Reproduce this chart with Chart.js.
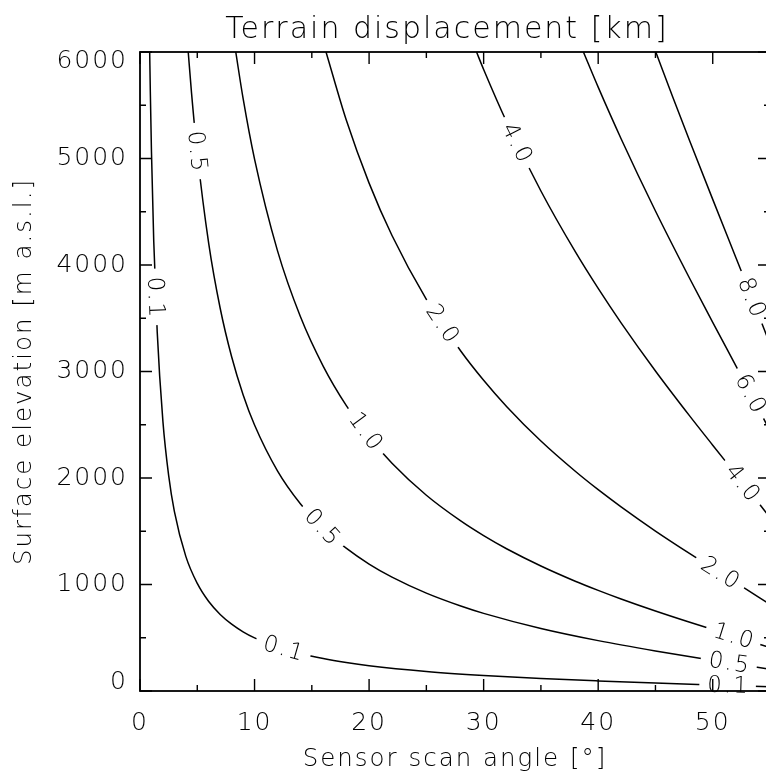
<!DOCTYPE html>
<html>
<head>
<meta charset="utf-8">
<script src="https://cdn.jsdelivr.net/npm/chart.js@4.4.1/dist/chart.umd.min.js"></script>
<style>
  html, body { margin: 0; padding: 0; background: #fff; overflow: hidden; }
  #wrap { width: 894px; height: 776px; }
</style>
</head>
<body>
<div id="wrap"><canvas id="myChart" width="894" height="776"></canvas></div>
<script>
// contour levels, terrain displacement in km
var levels = ['0.1', '0.5', '1.0', '2.0', '4.0', '6.0', '8.0'];

// contour lines as [scan angle (deg), surface elevation (m a.s.l.)]
var c01 = [[0.845, 6000], [0.9, 5631], [1, 5067], [1.2, 4223], [1.5, 3377], [2, 2532], [2.5, 2025],
           [3, 1687], [4, 1264], [5, 1010], [6, 840], [7, 719], [8, 628], [9, 556], [10, 499],
           [12, 413], [14, 352], [16, 305], [18, 268], [20, 238], [25, 184], [30, 146],
           [35, 117], [40, 94.5], [45, 75.1], [50, 57.7], [55, 40.7]];
var c05 = [[4.21, 6000], [4.5, 5614], [5, 5049], [6, 4201], [7, 3594], [8, 3138], [9, 2782],
           [10, 2497], [12, 2067], [14, 1758], [16, 1524], [18, 1341], [20, 1192], [22, 1069],
           [25, 919], [28, 798], [30, 729], [35, 587], [40, 473], [45, 376], [50, 288], [55, 204]];
var c10 = [[8.36, 6000], [9, 5564], [10, 4994], [12, 4135], [14, 3516], [16, 3049], [18, 2682],
           [20, 2385], [22, 2139], [25, 1838], [28, 1597], [30, 1459], [32, 1336], [35, 1174],
           [38, 1031], [40, 945], [42, 864], [45, 751], [48, 645], [50, 577], [52, 510], [55, 407]];
var c20 = [[16.24, 6000], [18, 5363], [20, 4769], [22, 4277], [25, 3677], [28, 3193], [30, 2918],
           [32, 2672], [35, 2347], [38, 2063], [40, 1890], [42, 1729], [45, 1502], [48, 1290],
           [50, 1154], [52, 1019], [55, 814]];
var c40 = [[29.38, 6000], [30, 5836], [32, 5345], [35, 4695], [38, 4125], [40, 3780], [42, 3457],
           [45, 3005], [48, 2581], [50, 2308], [52, 2038], [53.5, 1835], [55, 1628]];
var c60 = [[38.71, 6000], [40, 5670], [42, 5186], [45, 4507], [48, 3871], [50, 3462], [52, 3057],
           [53.5, 2753], [55, 2442]];
var c80 = [[45.03, 6000], [46.5, 5580], [48, 5162], [50, 4616], [52, 4076], [53.5, 3670], [55, 3256]];
var contours = [c01, c05, c10, c20, c40, c60, c80];

// inline labels: [level index, scan angle, elevation]
var labelSpots = [
  [0, 1.37, 3700], [0, 12.5, 400], [0, 51.3, 53],
  [1, 4.98, 5070], [1, 15.9, 1540], [1, 51.4, 265],
  [2, 19.7, 2440], [2, 51.8, 517],
  [3, 26.4, 3450], [3, 50.65, 1110],
  [4, 32.9, 5150], [4, 52.6, 1956],
  [5, 53.3, 2794],
  [6, 53.4, 3697]
];

var xTicks = [0, 10, 20, 30, 40, 50];
var xMinor = [5, 15, 25, 35, 45];
var yTicks = [0, 1000, 2000, 3000, 4000, 5000, 6000];
var yMinor = [500, 1500, 2500, 3500, 4500, 5500];

var FONT = '"DejaVu Sans", sans-serif';
Chart.defaults.font.family = FONT;
Chart.defaults.color = '#000';

// wide lettering for all text; end labels of the y axis kept inside the box
var spacing = {
  id: 'spacing',
  beforeDraw: function(chart) {
    chart.ctx.letterSpacing = '2px';
    var ys = chart.scales.y;
    var items = ys.getLabelItems();
    items.forEach(function(it) {
      var v = Number(it.label);
      if (v === ys.min) it.options.translation[1] -= 9;
      if (v === ys.max) it.options.translation[1] += 9;
    });
  }
};

// labels sit in a gap cut out of their contour
var contourLabels = {
  id: 'contourLabels',
  afterDatasetsDraw: function(chart) {
    var ctx = chart.ctx, xs = chart.scales.x, ys = chart.scales.y;
    ctx.save();
    ctx.font = '200 23px ' + FONT;
    ctx.textAlign = 'center';
    ctx.textBaseline = 'middle';
    labelSpots.forEach(function(s) {
      var txt = levels[s[0]];
      var px = xs.getPixelForValue(s[1]), py = ys.getPixelForValue(s[2]);
      var pts = chart.getDatasetMeta(s[0]).data;
      var i = 0;
      while (i < pts.length - 2 && pts[i + 1].x < px) i++;
      var ang = Math.atan2(pts[i + 1].y - pts[i].y, pts[i + 1].x - pts[i].x);
      var w = ctx.measureText(txt).width;
      ctx.save();
      ctx.translate(px, py);
      ctx.rotate(ang);
      ctx.fillStyle = '#fff';
      ctx.fillRect(-w / 2 - 7, -10, w + 14, 20);
      ctx.fillStyle = '#000';
      ctx.fillText(txt, 1, 1);
      ctx.restore();
    });
    ctx.restore();
  }
};

// box around the plot with inward ticks on all four sides
var frame = {
  id: 'frame',
  afterDraw: function(chart) {
    var ctx = chart.ctx, a = chart.chartArea;
    var xs = chart.scales.x, ys = chart.scales.y;
    ctx.save();
    ctx.strokeStyle = '#000';
    ctx.lineWidth = 1.4;
    ctx.beginPath();
    function xt(v, len) {
      var p = xs.getPixelForValue(v);
      ctx.moveTo(p, a.bottom); ctx.lineTo(p, a.bottom - len);
      ctx.moveTo(p, a.top); ctx.lineTo(p, a.top + len);
    }
    function yt(v, len) {
      var p = ys.getPixelForValue(v);
      ctx.moveTo(a.left, p); ctx.lineTo(a.left + len, p);
      ctx.moveTo(a.right, p); ctx.lineTo(a.right - len, p);
    }
    xTicks.forEach(function(v) { xt(v, 12); });
    xMinor.forEach(function(v) { xt(v, 6); });
    yTicks.forEach(function(v) { yt(v, 12); });
    yMinor.forEach(function(v) { yt(v, 6); });
    ctx.stroke();
    ctx.lineWidth = 1.8;
    ctx.strokeRect(a.left, a.top, a.right - a.left, a.bottom - a.top);
    ctx.restore();
  }
};

var ctx = document.getElementById('myChart').getContext('2d');
var myChart = new Chart(ctx, {
  type: 'scatter',
  data: {
    datasets: contours.map(function(c, k) {
      return {
        label: levels[k],
        data: c.map(function(p) { return {x: p[0], y: p[1]}; }),
        showLine: true,
        borderColor: '#000',
        borderWidth: 1.5,
        pointRadius: 0,
        cubicInterpolationMode: 'monotone'
      };
    })
  },
  options: {
    responsive: false,
    animation: false,
    events: [],
    devicePixelRatio: 1,
    layout: { padding: 0 },
    plugins: {
      legend: { display: false },
      tooltip: { enabled: false },
      title: {
        display: true,
        text: 'Terrain displacement [km]',
        color: '#000',
        font: { size: 30, weight: 200 },
        padding: { top: 12, bottom: 4 }
      }
    },
    scales: {
      x: {
        type: 'linear',
        position: 'bottom',
        min: 0,
        max: 55,
        grid: { display: false, drawTicks: false },
        border: { display: false },
        ticks: { font: { size: 25, weight: 200 }, padding: 17, maxRotation: 0, autoSkip: false },
        afterBuildTicks: function(scale) { scale.ticks = xTicks.map(function(v) { return {value: v}; }); },
        afterFit: function(scale) { scale.height = 85; },
        title: {
          display: true,
          text: 'Sensor scan angle [°]',
          font: { size: 24.5, weight: 200 },
          padding: { top: 0, bottom: 2 }
        }
      },
      y: {
        type: 'linear',
        min: 0,
        max: 6000,
        grid: { display: false, drawTicks: false },
        border: { display: false },
        ticks: {
          font: { size: 25, weight: 200 },
          padding: 12,
          autoSkip: false,
          callback: function(v) { return String(v); }
        },
        afterBuildTicks: function(scale) { scale.ticks = yTicks.map(function(v) { return {value: v}; }); },
        afterFit: function(scale) { scale.width = 140; },
        title: {
          display: true,
          text: 'Surface elevation [m a.s.l.]',
          font: { size: 24.5, weight: 200 },
          padding: { top: 10, bottom: 0 }
        }
      },
      // empty strip on the right so the plot runs past the visible edge
      yRight: {
        type: 'linear',
        position: 'right',
        min: 0,
        max: 6000,
        grid: { display: false, drawTicks: false },
        border: { display: false },
        ticks: { display: false },
        afterFit: function(scale) { scale.width = 124; }
      }
    }
  },
  plugins: [spacing, contourLabels, frame]
});
</script>
</body>
</html>
